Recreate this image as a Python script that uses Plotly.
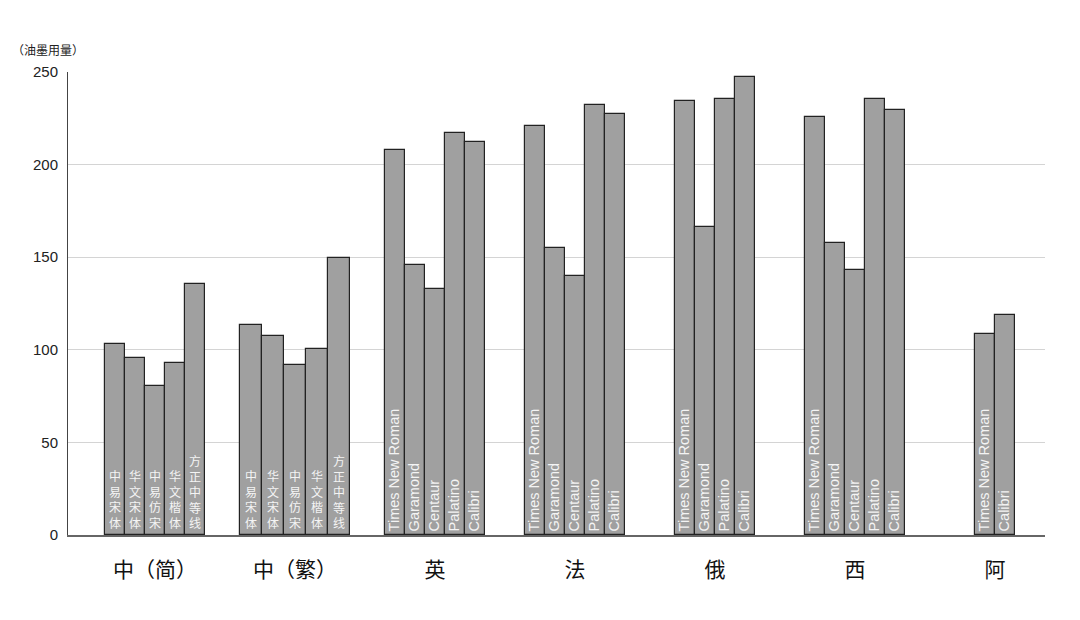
import plotly.graph_objects as go

categories = ["中（简）", "中（繁）", "英", "法", "俄", "西", "阿"]

fonts_zh_s = ["中易宋体", "华文宋体", "中易仿宋", "华文楷体", "方正中等线"]
ink_zh_s = [103.3, 95.7, 80.3, 93.0, 135.4]

fonts_zh_t = ["中易宋体", "华文宋体", "中易仿宋", "华文楷体", "方正中等线"]
ink_zh_t = [113.2, 107.6, 91.9, 100.2, 149.5]

fonts_en = ["Times New Roman", "Garamond", "Centaur", "Palatino", "Calibri"]
ink_en = [207.7, 145.9, 132.7, 217.3, 212.1]

fonts_fr = ["Times New Roman", "Garamond", "Centaur", "Palatino", "Calibri"]
ink_fr = [220.7, 154.9, 140.0, 232.1, 227.1]

fonts_ru = ["Times New Roman", "Garamond", "Palatino", "Calibri"]
ink_ru = [234.5, 166.2, 235.2, 247.4]

fonts_es = ["Times New Roman", "Garamond", "Centaur", "Palatino", "Calibri"]
ink_es = [225.8, 157.7, 143.0, 235.2, 229.4]

fonts_ar = ["Times New Roman", "Calibri"]
ink_ar = [108.3, 118.6]

y_ticks = [0, 50, 100, 150, 200, 250]
y_title = "（油墨用量）"

groups = [
    (fonts_zh_s, ink_zh_s, True, 1 / 7),
    (fonts_zh_t, ink_zh_t, True, 22 / 140),
    (fonts_en, ink_en, False, 1 / 7),
    (fonts_fr, ink_fr, False, 1 / 7),
    (fonts_ru, ink_ru, False, 1 / 7),
    (fonts_es, ink_es, False, 1 / 7),
    (fonts_ar, ink_ar, False, 1 / 7),
]

LATIN = "Liberation Sans, Arial, Noto Sans CJK SC"
CJK = "Noto Sans CJK SC, Liberation Sans"

# page offset of the figure (body margin) and plot-area pixels
OFF = 8
L, R, T, B = 68 - OFF, 1080 - 1045 + OFF, 72 - OFF, 620 - 535 + OFF
PW = 1080 - L - R
PH = 620 - T - B

fig = go.Figure()
annotations = []
for gi, (names, vals, is_cjk, w) in enumerate(groups):
    n = len(vals)
    xs = [gi + (j - (n - 1) / 2) * w for j in range(n)]
    fig.add_trace(go.Bar(
        x=xs, y=vals, width=[w] * n,
        marker=dict(color="#a0a0a0", line=dict(color="#222222", width=1.2)),
        text=None if is_cjk else names,
        textposition="inside", insidetextanchor="start", textangle=-90,
        constraintext="none",
        textfont=dict(family=LATIN, size=14.5, color="#f4f4f4"),
        hoverinfo="x+y", showlegend=False,
    ))
    if is_cjk:
        for x, name in zip(xs, names):
            annotations.append(dict(
                x=x, y=0, xref="x", yref="y", text="<br>".join(list(name)),
                showarrow=False, yanchor="bottom", xanchor="center", yshift=3,
                borderpad=0,
                font=dict(family=CJK, size=12, color="#f4f4f4"),
            ))

annotations.append(dict(
    x=(10 - 68) / PW, y=1 + (72 - 49) / PH, xref="paper", yref="paper",
    text=y_title, showarrow=False, xanchor="left", yanchor="middle",
    font=dict(family=CJK, size=12, color="#222222"),
))

fig.update_layout(
    width=1080, height=620,
    margin=dict(l=L, r=R, t=T, b=B),
    plot_bgcolor="#ffffff", paper_bgcolor="#ffffff",
    barmode="overlay", bargap=0,
    annotations=annotations,
    font=dict(family=LATIN, color="#222222"),
)
fig.update_xaxes(
    range=[-87 / 140, 6 + 50 / 140],
    tickvals=list(range(len(categories))), ticktext=categories,
    tickfont=dict(family=CJK, size=21, color="#111111"),
    ticks="", ticklabelstandoff=15,
    showgrid=False, zeroline=False,
    showline=True, linecolor="#666666", linewidth=2,
)
fig.update_yaxes(
    range=[0, 250], tickvals=y_ticks,
    tickfont=dict(family=LATIN, size=15, color="#222222"),
    ticks="", ticklabelstandoff=6,
    showgrid=True, gridcolor="#d4d4d4", gridwidth=1,
    zeroline=False,
    showline=True, linecolor="#444444", linewidth=1,
)

fig.write_html("out.html")
